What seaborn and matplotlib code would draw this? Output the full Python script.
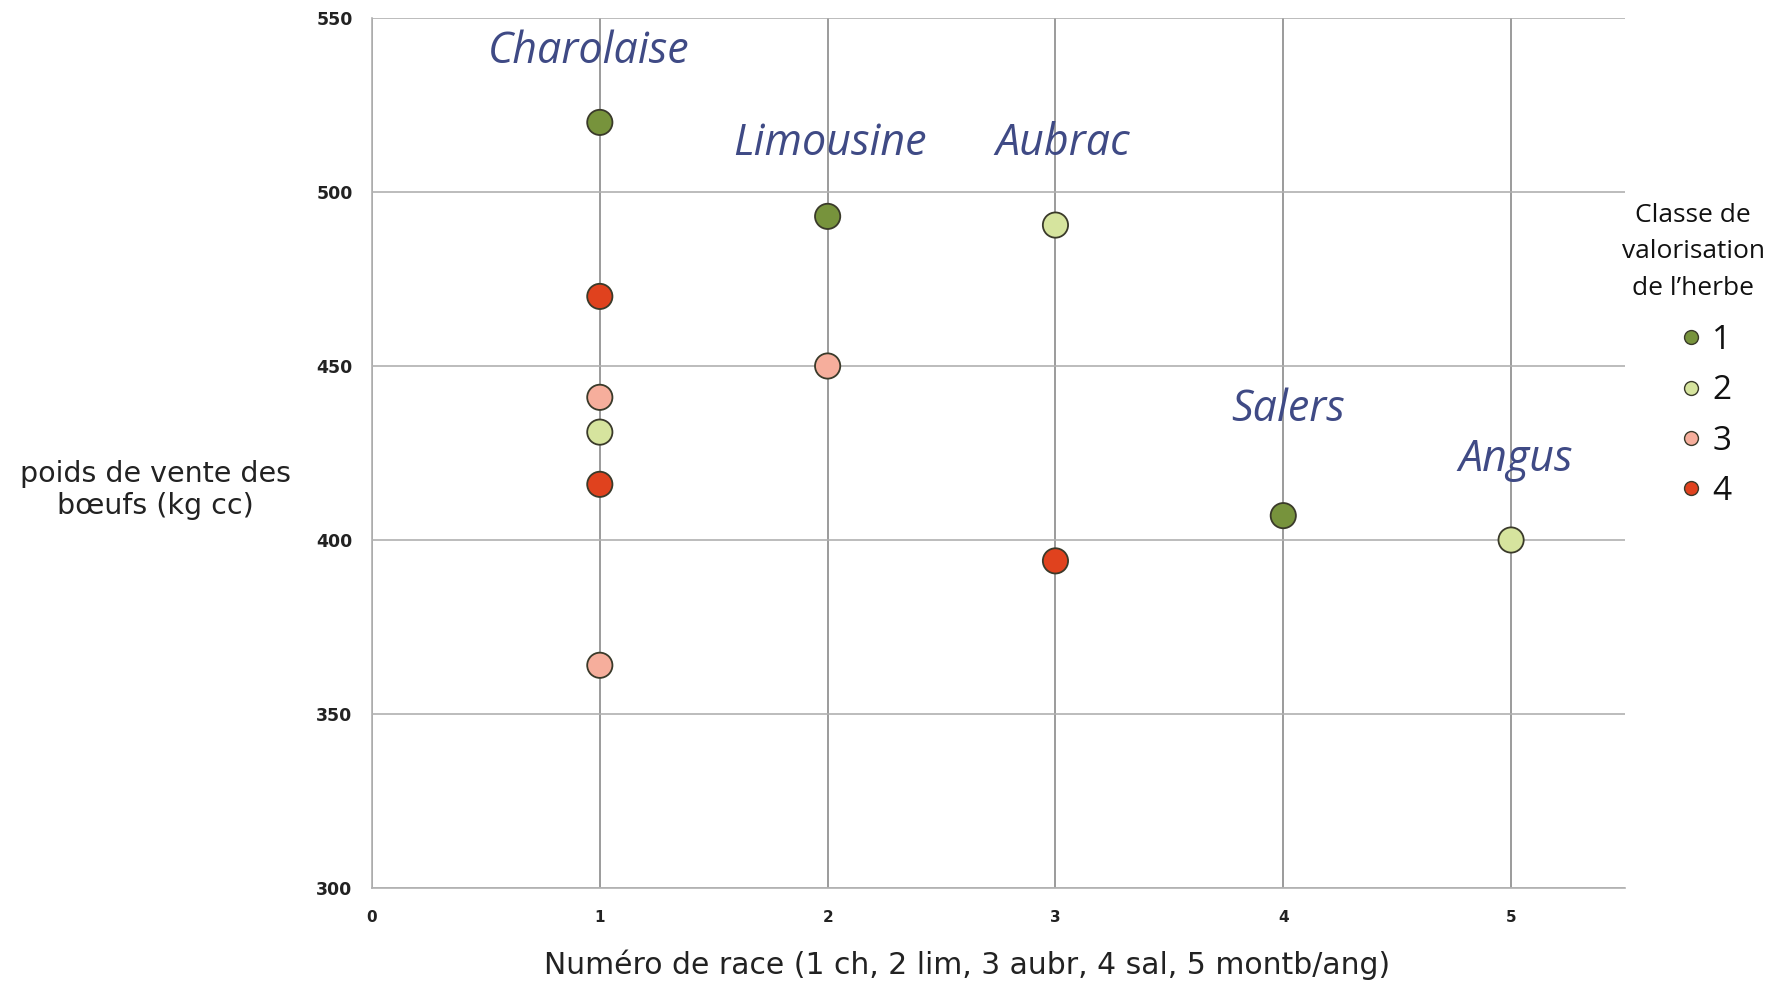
import matplotlib
matplotlib.use("Agg")
import matplotlib.pyplot as plt
import seaborn as sns
import pandas as pd

# Data
race = [1, 1, 1, 1, 1, 1, 2, 2, 3, 3, 4, 5]
poids = [520, 470, 441, 431, 416, 364, 493, 450, 490.5, 394, 407, 400]
classe = ["1", "4", "3", "2", "4", "3", "1", "3", "2", "4", "1", "2"]

class_order = ["1", "2", "3", "4"]
class_colors = ["#77933C", "#D6E49E", "#F6AE9C", "#E0421E"]

breed_names = ["Charolaise", "Limousine", "Aubrac", "Salers", "Angus"]
breed_x = [0.95, 2.01, 3.03, 4.02, 5.02]
breed_y = [540.3, 514.0, 514.0, 437.3, 423.0]

x_ticks = [0, 1, 2, 3, 4, 5]
y_ticks = [300, 350, 400, 450, 500, 550]

df = pd.DataFrame({"race": race, "poids": poids, "classe": classe})

sns.set_style("white")
fig = plt.figure(figsize=(17.73, 9.83), dpi=100)
ax = fig.add_axes([372 / 1773, 1 - 888 / 983, (1625 - 372) / 1773, (888 - 18) / 983])

palette = dict(zip(class_order, class_colors))
sns.scatterplot(data=df, x="race", y="poids", hue="classe", hue_order=class_order,
                palette=palette, s=330, edgecolor="#3a3a2a", linewidth=1.3,
                ax=ax, zorder=3)

ax.set_xlim(0, 5.5)
ax.set_ylim(300, 550)
ax.set_xticks(x_ticks)
ax.set_yticks(y_ticks)
ax.set_xticklabels([str(t) for t in x_ticks], fontsize=11, fontweight="bold", color="#222222")
ax.set_yticklabels([str(t) for t in y_ticks], fontsize=12.5, fontweight="bold", color="#222222")
ax.tick_params(axis="both", length=0)
ax.tick_params(axis="x", pad=16)
ax.tick_params(axis="y", pad=14)

ax.xaxis.grid(True, color="#8a8a8a", linewidth=1.2)
ax.yaxis.grid(True, color="#b0b0b0", linewidth=1.2)
ax.set_axisbelow(True)
for side in ["top", "right"]:
    ax.spines[side].set_visible(False)
ax.spines["left"].set_color("#b0b0b0")
ax.spines["bottom"].set_color("#b0b0b0")
ax.spines["left"].set_linewidth(1.2)
ax.spines["bottom"].set_linewidth(1.2)

ax.set_xlabel("")
ax.set_ylabel("")
fig.text(967 / 1773, 1 - 965 / 983, "Numéro de race (1 ch, 2 lim, 3 aubr, 4 sal, 5 montb/ang)",
         ha="center", va="center", fontsize=21.5, color="#222222")
fig.text(155 / 1773, 1 - 490 / 983, "poids de vente des\nbœufs (kg cc)",
         ha="center", va="center", fontsize=20.5, color="#222222", linespacing=1.2)

for name, bx, by in zip(breed_names, breed_x, breed_y):
    ax.text(bx, by, name, ha="center", va="center", fontsize=31, style="italic",
            color="#3F4A85", family="Open Sans")

# Legend title
fig.text(1693 / 1773, 1 - 252 / 983, "Classe de\nvalorisation\nde l\u2019herbe",
         ha="center", va="center", fontsize=19, family="Open Sans", color="#111111",
         linespacing=1.6)

handles, labels = ax.get_legend_handles_labels()
for h in handles:
    if hasattr(h, "set_markersize"):
        h.set_markersize(10)
        h.set_markeredgewidth(1.0)
leg = ax.legend(handles, labels, loc="center",
                bbox_to_anchor=(1707 / 1773, 1 - 416 / 983),
                bbox_transform=fig.transFigure, frameon=False,
                fontsize=24, handletextpad=0.4,
                labelspacing=0.52, borderpad=0, handlelength=0.5)
for h in leg.legend_handles:
    if hasattr(h, "set_markersize"):
        h.set_markersize(10)
        h.set_markeredgewidth(1.0)
for t in leg.get_texts():
    t.set_family("Open Sans")
    t.set_color("#111111")

fig.savefig("out.png", dpi=100)
